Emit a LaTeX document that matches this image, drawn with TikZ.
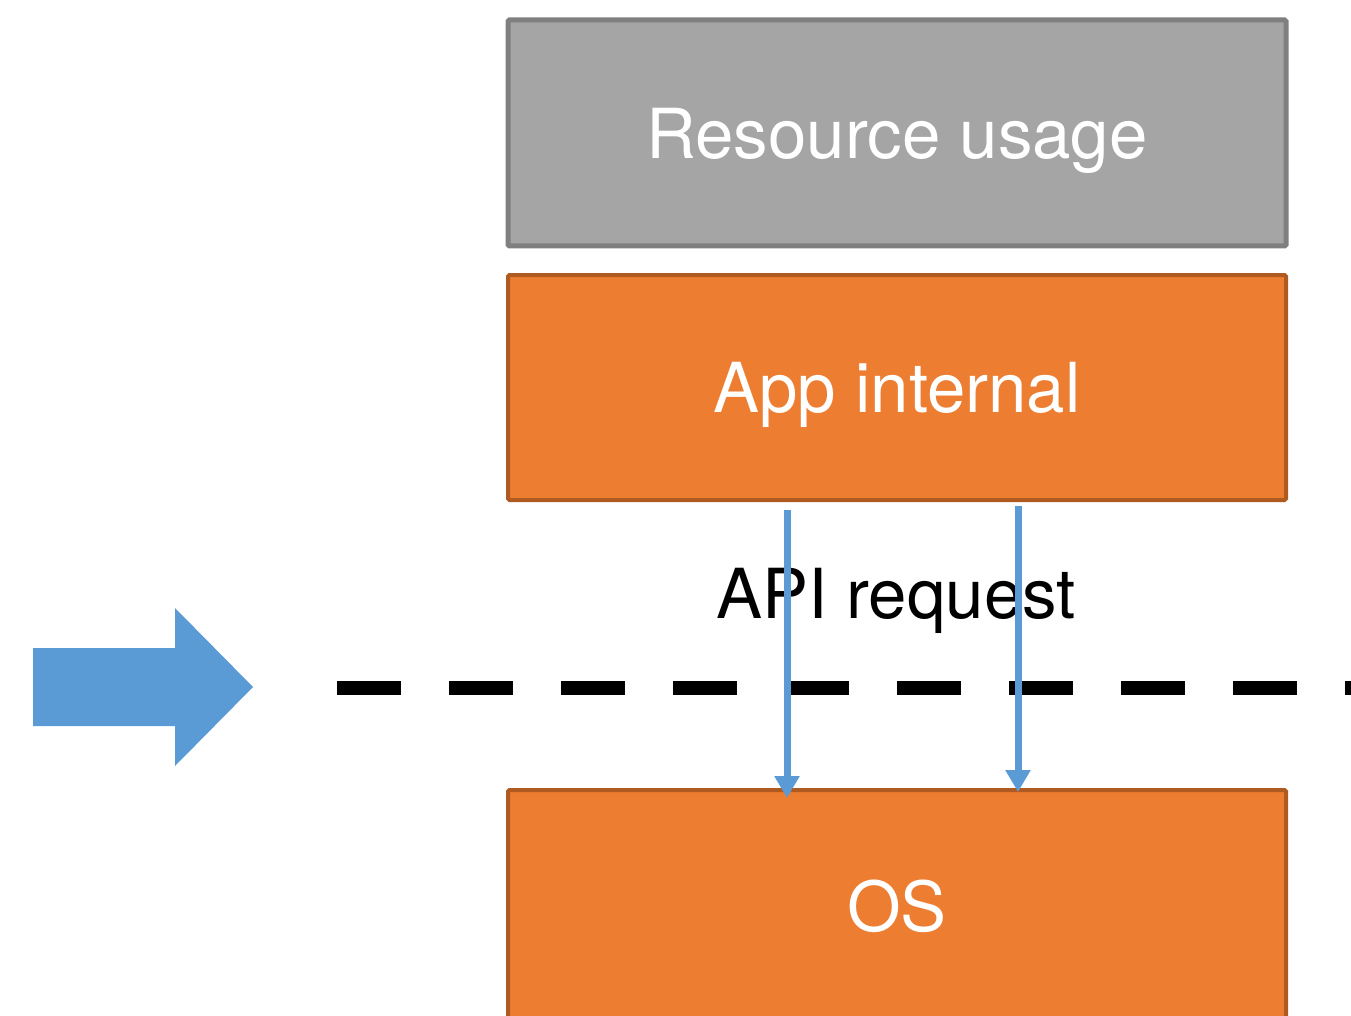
\documentclass[tikz,border=0pt]{standalone}
\usepackage{fontspec}
\setmainfont{TeX Gyre Heros}
\usetikzlibrary{arrows.meta}
\definecolor{orfill}{HTML}{ED7D31}
\definecolor{ordraw}{HTML}{AE5A21}
\definecolor{gyfill}{HTML}{A5A5A5}
\definecolor{gydraw}{HTML}{7F7F7F}
\definecolor{bl}{HTML}{5B9BD5}
\tikzset{
  x=1pt, y=-1pt,
  box/.style={draw, line width=4pt, rounded corners=1.5pt, minimum width=778pt, inner sep=0pt,
    text=white, font=\fontsize{69}{80}\selectfont, text depth=0pt},
  orbox/.style={box, fill=orfill, draw=ordraw},
  gybox/.style={box, fill=gyfill, draw=gydraw, line width=5pt},
  req/.style={draw=bl, line width=7pt, -{Triangle[width=24pt,length=22pt]}},
  boundary/.style={line width=14pt, dash pattern=on 64pt off 48pt},
}
\begin{document}
\begin{tikzpicture}
\useasboundingbox (0,0) rectangle (1351,1016);
\clip (0,0) rectangle (1351,1016);
\node[gybox, minimum height=226pt] (res) at (897,133) {Resource usage};
\node[orbox, minimum height=225pt] (app) at (897,387.5) {App internal};
\node[orbox, minimum height=232pt] (os) at (897,906) {OS};
\node[font=\fontsize{69}{80}\selectfont, inner sep=0pt, text depth=0pt] (api) at (896,593) {API request};
\coordinate (d1) at (337,688);
\coordinate (d2) at (1380,688);
\draw[boundary] (d1) -- (d2);
\draw[req] ([xshift=281pt,yshift=-8pt]app.south west) -- ([xshift=281pt,yshift=-10pt]os.north west);
\draw[req] ([xshift=512pt,yshift=-4pt]app.south west) -- ([xshift=512pt,yshift=-4pt]os.north west);
\fill[bl] (33,648) -- (175,648) -- (175,608) -- (253,687) -- (175,766) -- (175,726) -- (33,726) -- cycle;
\end{tikzpicture}
\end{document}
